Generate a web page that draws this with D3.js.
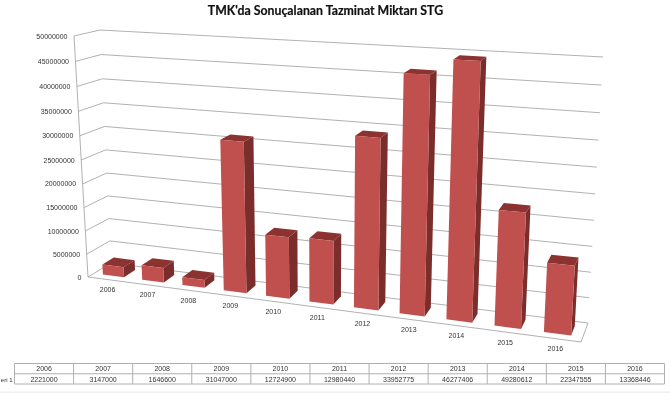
<!DOCTYPE html>
<html>
	<head>
		<title>TMK Tazminat</title>
		<style>
			body, html { margin: 0; padding: 0; background: #fff; overflow: hidden; }
			/* the reference is a soft, upscaled screenshot */
			svg { filter: blur(0.3px); }
			text { font-family: "Liberation Sans", sans-serif; font-size: 7px; fill: #333; }
			text.title { font-family: Lato, sans-serif; font-size: 12.3px; font-weight: 700; fill: #111; stroke: #111; stroke-width: 0.2; }
			text.series { font-size: 6px; }
		</style>
	</head>
	<body>

		<svg id="svg" width="670" height="393"></svg>

		<script src="https://d3js.org/d3.v7.min.js"></script>
		<script>
			// Values from the table under the chart
			const years = ['2006', '2007', '2008', '2009', '2010', '2011', '2012', '2013', '2014', '2015', '2016']
			const values = [2221000, 3147000, 1646600, 31047000, 12724900, 12980440, 33952775, 46277406, 49280612, 22347555, 13368446]
			const yTicks = [0, 5000000, 10000000, 15000000, 20000000, 25000000, 30000000, 35000000, 40000000, 45000000, 50000000]
			// The first letter is already cut off in the reference
			const seriesName = 'eri 1'
			const title = "TMK'da Sonuçalanan Tazminat Miktarı STG"

			const svg = d3.select('#svg')

			// Scales go to 0..1 in the box of the fake 3d chart
			const xScale = d3.scaleBand().domain(years).range([0, 1]).paddingInner(0.46).paddingOuter(0.23)
			const yScale = d3.scaleLinear().domain([0, 50000000]).range([0, 1])

			// Corners of the box on screen: f/b = front/back, b/t = bottom/top, l/r
			const box = {
				fbl: [88, 277], fbr: [581, 342], bbl: [111, 263], bbr: [588, 323],
				ftl: [74, 36], ftr: [596, 66], btl: [100, 30], btr: [603, 57]
			}
			const barFront = 0.26
			const barBack = 0.76

			// Things further right/up are closer to the camera
			const warp = (t, b) => t / (t + (1 - t) * b)
			const mix = (a, b, t) => [a[0] + (b[0] - a[0]) * t, a[1] + (b[1] - a[1]) * t]

			function project(u, depth, value) {
				const a = warp(u, 1.15)
				const h = warp(yScale(value), 1.06)
				const front = mix(mix(box.fbl, box.fbr, a), mix(box.ftl, box.ftr, a), h)
				const back = mix(mix(box.bbl, box.bbr, a), mix(box.btl, box.btr, a), h)
				return mix(front, back, depth)
			}

			const line = d3.line()

			// Title
			svg.append('text')
				.attr('class', 'title')
				.attr('x', 325.5)
				.attr('y', 14.5)
				.attr('text-anchor', 'middle')
				.text(title)

			// Grid: left wall and back wall
			svg.append('g')
				.selectAll('path')
				.data(yTicks)
				.join('path')
				.attr('d', d => line([project(0, 0, d), project(0, 1, d), project(1, 1, d)]))
				.attr('fill', 'none')
				.attr('stroke', '#a8a8a8')
				.attr('stroke-width', 0.9)

			// Value axis and floor
			const floor = [
				[project(0, 0, 50000000), project(0, 0, 0)],
				[project(0, 0, 0), project(1, 0, 0), project(1, 1, 0)]
			]
			svg.append('g')
				.selectAll('path')
				.data(floor)
				.join('path')
				.attr('d', d => line(d))
				.attr('fill', 'none')
				.attr('stroke', '#a8a8a8')
				.attr('stroke-width', 0.9)

			svg.append('g')
				.selectAll('text')
				.data(yTicks)
				.join('text')
				.attr('x', d => project(0, 0, d)[0] - 6.5)
				.attr('y', d => project(0, 0, d)[1] + 2.5)
				.attr('text-anchor', 'end')
				.text(d => d)

			// Bars
			const bars = svg.append('g')
				.selectAll('g')
				.data(years.map((year, i) => ({ year, value: values[i] })))
				.join('g')

			const left = d => xScale(d.year)
			const right = d => xScale(d.year) + xScale.bandwidth()

			// side
			bars.append('path')
				.attr('d', d => line([
					project(right(d), barFront, 0),
					project(right(d), barBack, 0),
					project(right(d), barBack, d.value),
					project(right(d), barFront, d.value)
				]) + 'Z')
				.attr('fill', '#7b2d2b')

			// top
			bars.append('path')
				.attr('d', d => line([
					project(left(d), barFront, d.value),
					project(left(d), barBack, d.value),
					project(right(d), barBack, d.value),
					project(right(d), barFront, d.value)
				]) + 'Z')
				.attr('fill', '#8c3331')

			// front
			bars.append('path')
				.attr('d', d => line([
					project(left(d), barFront, 0),
					project(left(d), barFront, d.value),
					project(right(d), barFront, d.value),
					project(right(d), barFront, 0)
				]) + 'Z')
				.attr('fill', '#c0504d')

			// Year labels under the floor
			svg.append('g')
				.selectAll('text')
				.data(years)
				.join('text')
				.attr('x', d => project(xScale(d) + xScale.bandwidth() / 2, 0, 0)[0])
				.attr('y', d => project(xScale(d) + xScale.bandwidth() / 2, 0, 0)[1] + 12.5)
				.attr('text-anchor', 'middle')
				.text(d => d)

			// Data table
			const colScale = d3.scaleBand().domain(years).range([14.5, 664.5])
			const rowScale = d3.scaleBand().domain(['head', 'body']).range([363.5, 384])
			const table = svg.append('g')

			table.append('path')
				.attr('d', line([[14.5, 363.5], [664.5, 363.5], [664.5, 384], [14.5, 384]]) + 'Z')
				.attr('fill', 'none')
				.attr('stroke', '#b0b0b0')
			table.append('path')
				.attr('d', line([[14.5, rowScale('body')], [664.5, rowScale('body')]]))
				.attr('stroke', '#b0b0b0')
			table.selectAll('.col')
				.data(years.slice(1))
				.join('path')
				.attr('class', 'col')
				.attr('d', d => line([[colScale(d), 363.5], [colScale(d), 384]]))
				.attr('stroke', '#b0b0b0')

			table.selectAll('.head')
				.data(years)
				.join('text')
				.attr('class', 'head')
				.attr('x', d => colScale(d) + colScale.bandwidth() / 2)
				.attr('y', rowScale('head') + 7.7)
				.attr('text-anchor', 'middle')
				.text(d => d)

			table.selectAll('.val')
				.data(years)
				.join('text')
				.attr('class', 'val')
				.attr('x', d => colScale(d) + colScale.bandwidth() / 2)
				.attr('y', rowScale('body') + 7.9)
				.attr('text-anchor', 'middle')
				.text((d, i) => values[i])

			table.append('text')
				.attr('class', 'series')
				.attr('x', 12.5)
				.attr('y', rowScale('body') + 7.9)
				.attr('text-anchor', 'end')
				.text(seriesName)

			// Window edge at the very bottom of the screenshot
			svg.append('rect')
				.attr('x', 0)
				.attr('y', 391.5)
				.attr('width', 670)
				.attr('height', 1.5)
				.attr('fill', '#efefef')
		</script>
	</body>
</html>
